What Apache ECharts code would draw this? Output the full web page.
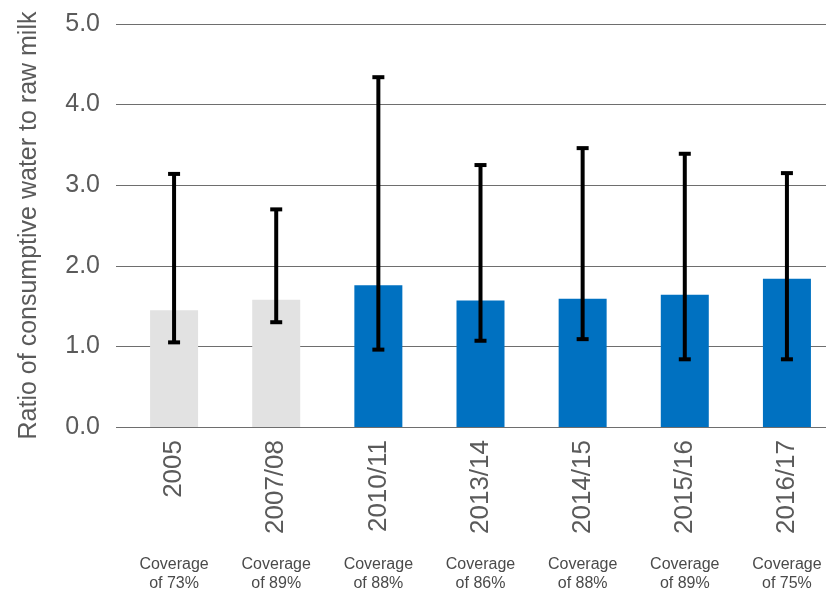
<!DOCTYPE html>
<html>
<head>
<meta charset="utf-8">
<script src="https://cdn.jsdelivr.net/npm/echarts@6/dist/echarts.min.js"></script>
<style>
  html, body { margin: 0; padding: 0; background: #fff; }
  #chart { width: 826px; height: 591px; }
</style>
</head>
<body>
<div id="chart"></div>
<script>
// Survey periods and the coverage reached in each
const periods = ['2005', '2007/08', '2010/11', '2013/14', '2014/15', '2015/16', '2016/17'];
const coverage = ['Coverage\nof 73%', 'Coverage\nof 89%', 'Coverage\nof 88%', 'Coverage\nof 86%', 'Coverage\nof 88%', 'Coverage\nof 89%', 'Coverage\nof 75%'];

// Average ratio per period, with the low / high range shown as whiskers
const ratio = [1.45, 1.58, 1.76, 1.57, 1.59, 1.64, 1.84];
const rangeLow = [1.05, 1.30, 0.96, 1.07, 1.09, 0.84, 0.84];
const rangeHigh = [3.14, 2.70, 4.34, 3.25, 3.46, 3.39, 3.15];

// Earlier surveys drawn in grey, recent ones in blue
const earlyCount = 2;

const yTicks = { min: 0, max: 5, interval: 1 };

const textColor = '#5a5a5a';
const font = 'Liberation Sans, Arial, sans-serif';

const chart = echarts.init(document.getElementById('chart'));

chart.setOption({
  animation: false,
  backgroundColor: '#fff',
  grid: [
    // bars (the last band runs past the right edge)
    { left: 123, width: 715, top: 24, bottom: 164, outerBoundsMode: 'none', containLabel: false },
    // gridlines and value labels
    { left: 116, right: 0, top: 24, bottom: 164, outerBoundsMode: 'none', containLabel: false }
  ],
  xAxis: [
    {
      type: 'category', gridIndex: 0, data: periods, position: 'bottom',
      axisLine: { show: false }, axisTick: { show: false },
      axisLabel: { rotate: 90, margin: 13, fontSize: 26, color: textColor, fontFamily: font }
    },
    {
      type: 'category', gridIndex: 0, data: coverage, position: 'bottom',
      axisLine: { show: false }, axisTick: { show: false },
      axisLabel: { margin: 128, fontSize: 16, lineHeight: 19, color: '#4a4a4a', fontFamily: font, verticalAlign: 'top' }
    },
    {
      type: 'value', gridIndex: 1, show: false, min: 0, max: 1
    }
  ],
  yAxis: [
    {
      type: 'value', gridIndex: 0, min: yTicks.min, max: yTicks.max, interval: yTicks.interval,
      show: false
    },
    {
      type: 'value', gridIndex: 1, min: yTicks.min, max: yTicks.max, interval: yTicks.interval,
      axisLine: { show: false }, axisTick: { show: false },
      splitLine: { show: true, lineStyle: { color: '#6e6e6e', width: 1.2 } },
      axisLabel: {
        margin: 16, fontSize: 25, color: textColor, fontFamily: font,
        formatter: v => v.toFixed(1)
      },
      name: 'Ratio of consumptive water to raw milk',
      nameLocation: 'middle', nameGap: 74,
      nameTextStyle: { fontSize: 25, color: textColor, fontFamily: font }
    }
  ],
  series: [
    {
      type: 'bar', xAxisIndex: 0, yAxisIndex: 0,
      barWidth: 48,
      data: ratio.map((v, i) => ({
        value: v,
        itemStyle: { color: i < earlyCount ? '#e2e2e2' : '#0071c1' }
      })),
      z: 2
    },
    {
      type: 'custom', xAxisIndex: 0, yAxisIndex: 0,
      data: periods.map((p, i) => [i, rangeLow[i], rangeHigh[i]]),
      renderItem: (params, api) => {
        const lo = api.coord([api.value(0), api.value(1)]);
        const hi = api.coord([api.value(0), api.value(2)]);
        const cap = 6;
        const style = { stroke: '#000', lineWidth: 4 };
        return {
          type: 'group',
          children: [
            { type: 'line', shape: { x1: hi[0], y1: hi[1], x2: lo[0], y2: lo[1] }, style },
            { type: 'line', shape: { x1: hi[0] - cap, y1: hi[1], x2: hi[0] + cap, y2: hi[1] }, style },
            { type: 'line', shape: { x1: lo[0] - cap, y1: lo[1], x2: lo[0] + cap, y2: lo[1] }, style }
          ]
        };
      },
      z: 3
    }
  ]
});
</script>
</body>
</html>
